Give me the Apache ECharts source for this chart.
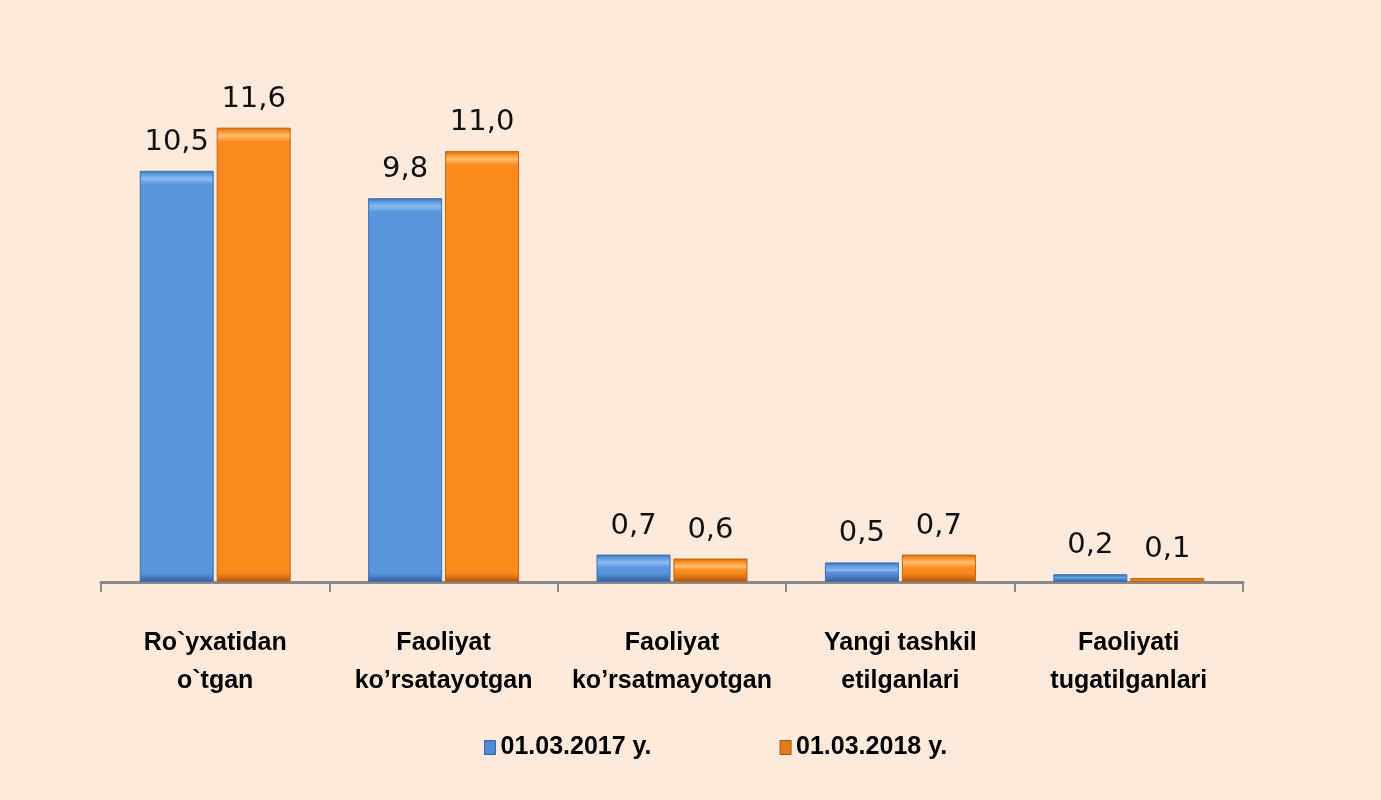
<!DOCTYPE html>
<html><head><meta charset="utf-8">
<script src="https://cdn.jsdelivr.net/npm/echarts@6/dist/echarts.min.js"></script>
<style>html,body{margin:0;padding:0;background:#FDEADA}#c{width:1381px;height:800px}</style>
</head><body><div id="c"></div>
<script>
const categories = ["Ro`yxatidan\no`tgan", "Faoliyat\nko’rsatayotgan", "Faoliyat\nko’rsatmayotgan", "Yangi tashkil\netilganlari", "Faoliyati\ntugatilganlari"];
const series2017 = [10.5, 9.8, 0.7, 0.5, 0.2];
const series2018 = [11.6, 11.0, 0.6, 0.7, 0.1];
const seriesNames = ["01.03.2017 y.", "01.03.2018 y."];

const PX_PER_UNIT = 470 / 12;
function grad(v, edge, light, mid, dark) {
  const h = Math.max(v * PX_PER_UNIT, 1);
  const f = px => Math.min(px / h, 0.5);
  return new echarts.graphic.LinearGradient(0, 0, 0, 1, [
    {offset: 0, color: edge}, {offset: f(3), color: mid}, {offset: f(8), color: light},
    {offset: f(14), color: mid}, {offset: 1 - f(9), color: mid}, {offset: 1, color: dark}
  ]);
}
function styled(values, edge, light, mid, dark, border) {
  return values.map(v => ({value: v, itemStyle: {color: grad(v, edge, light, mid, dark), borderColor: border, borderWidth: 1}}));
}
const labelCfg = {
  show: true, position: 'top', distance: 14,
  fontFamily: 'DejaVu Sans', fontSize: 29, color: '#111',
  formatter: p => p.value.toFixed(1).replace('.', ',')
};
const chart = echarts.init(document.getElementById('c'));
chart.setOption({
  backgroundColor: '#FDEADA',
  animation: false,
  grid: {left: 101, right: 138, top: 112, bottom: 218},
  legend: {
    left: 479, top: 730, itemGap: 128, itemWidth: 11, itemHeight: 14,
    textStyle: {fontFamily: 'Liberation Sans, Arial, sans-serif', fontWeight: 'bold', fontSize: 25, color: '#000'},
    data: [{name: seriesNames[0], icon: 'rect', itemStyle: {color: '#4F8AD6', borderColor: '#3A66A0', borderWidth: 1}},
           {name: seriesNames[1], icon: 'rect', itemStyle: {color: '#E07A1A', borderColor: '#A8560C', borderWidth: 1}}]
  },
  xAxis: {
    type: 'category', data: categories,
    axisLine: {lineStyle: {color: '#898989', width: 3}},
    axisTick: {show: true, length: 10, lineStyle: {color: '#898989', width: 2}},
    axisLabel: {interval: 0, margin: 42, lineHeight: 38, fontFamily: 'Liberation Sans, Arial, sans-serif', fontWeight: 'bold', fontSize: 25, color: '#000'}
  },
  yAxis: {type: 'value', min: 0, max: 12, show: false, splitLine: {show: false}},
  series: [
    {name: seriesNames[0], type: 'bar', barWidth: 74, barGap: '4%',
     data: styled(series2017, '#3E6CA8', '#8CBBF0', '#5895DD', '#35609A', '#4070AE'),
     itemStyle: {color: '#5895DD'},
     label: labelCfg},
    {name: seriesNames[1], type: 'bar', barWidth: 74, barGap: '4%',
     data: styled(series2018, '#C86A12', '#FFBE6E', '#FA8A1E', '#A8560C', '#C0650F'),
     itemStyle: {color: '#FA8A1E'},
     label: labelCfg}
  ]
});
</script></body></html>
